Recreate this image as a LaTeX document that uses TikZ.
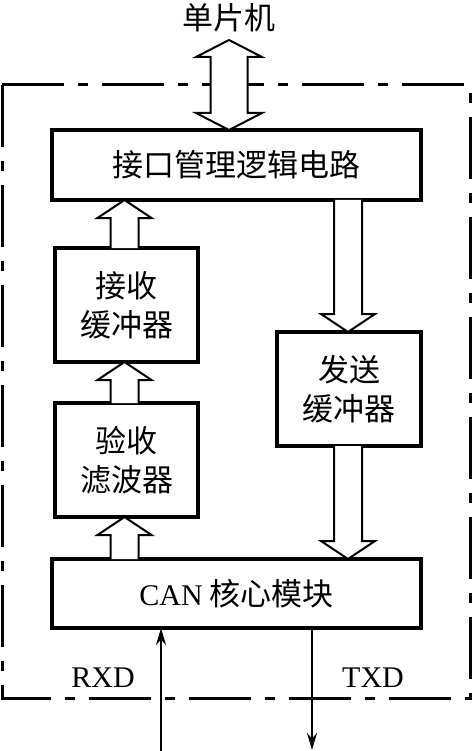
\documentclass[tikz,border=0pt]{standalone}
\usepackage{fontspec}
\setmainfont{Liberation Serif}
\newfontfamily\cjk{Noto Sans CJK SC}
\usetikzlibrary{calc,arrows.meta}
\tikzset{
  box/.style={draw, line width=3.6pt, fill=white, inner sep=0pt, outer sep=0pt, align=center,
    font=\fontsize{31}{39}\selectfont\cjk},
  fat/.style={draw, line width=2pt, fill=white, line join=miter},
  sig/.style={line width=2.2pt, -{Stealth[length=17pt,width=10pt]}},
  border/.style={line width=3pt, dash pattern=on 62pt off 14pt on 10pt off 14pt},
  lbl/.style={font=\fontsize{30}{36}\selectfont, inner sep=0pt}
}
\newcommand{\fatarr}[2]{%
  \draw[fat] let \p1=(#1), \p2=(#2), \p3=($(#2)!18pt!(#1)$) in
    (\x1-14pt,\y1) -- (\x1-14pt,\y3) -- (\x1-27pt,\y3) -- (\x2,\y2)
    -- (\x1+27pt,\y3) -- (\x1+14pt,\y3) -- (\x1+14pt,\y1);}
\begin{document}
\begin{tikzpicture}[x=1pt,y=-1pt]
\useasboundingbox (0,0) rectangle (472,751);
% dash-dot border
\draw[border] (2,85) -- (470,85) -- (470,698) -- (2,698) -- cycle;
% boxes
\node[box, minimum width=369pt, minimum height=70pt] (top) at (236.5,165) {接口管理逻辑电路};
\node[box, minimum width=143pt, minimum height=114pt] (rb) at (126.5,305) {接收\\缓冲器};
\node[box, minimum width=143pt, minimum height=114pt] (filt) at (126.5,460) {验收\\滤波器};
\node[box, minimum width=144pt, minimum height=114pt] (send) at (349,389) {发送\\缓冲器};
\node[box, minimum width=369pt, minimum height=69pt] (can) at (236.5,593.5) {{\rmfamily\fontsize{30}{39}\selectfont CAN} 核心模块};
% label
\node[lbl] (mcu) at (229,18) {\cjk\fontsize{31}{36}\selectfont 单片机};
\coordinate (mcutip) at (229,40);
\coordinate (colL) at (124.5,0);
\coordinate (colR) at (348,0);
% top double arrow
\draw[fat] let \p1=(mcutip), \p2=(top.north -| mcutip) in
  (\x1,\y1) -- (\x1+33pt,\y1-17pt) -- (\x1+18.5pt,\y1-17pt) -- (\x1+18.5pt,\y2+17pt)
  -- (\x1+33pt,\y2+17pt) -- (\x2,\y2) -- (\x1-33pt,\y2+17pt) -- (\x1-18.5pt,\y2+17pt)
  -- (\x1-18.5pt,\y1-17pt) -- (\x1-33pt,\y1-17pt) -- cycle;
% hollow arrows
\fatarr{rb.north -| colL}{top.south -| colL}
\fatarr{filt.north -| colL}{rb.south -| colL}
\fatarr{can.north -| colL}{filt.south -| colL}
\fatarr{top.south -| colR}{send.north -| colR}
\fatarr{send.south -| colR}{can.north -| colR}
% RXD / TXD
\coordinate (rxdin) at (161,751);
\coordinate (txdout) at (312,750);
\draw[sig] (rxdin) -- (can.south -| rxdin);
\draw[sig] (can.south -| txdout) -- (txdout);
\node[lbl] (rxd) at (103,678) {RXD};
\node[lbl] (txd) at (373,678) {TXD};
\end{tikzpicture}
\end{document}
